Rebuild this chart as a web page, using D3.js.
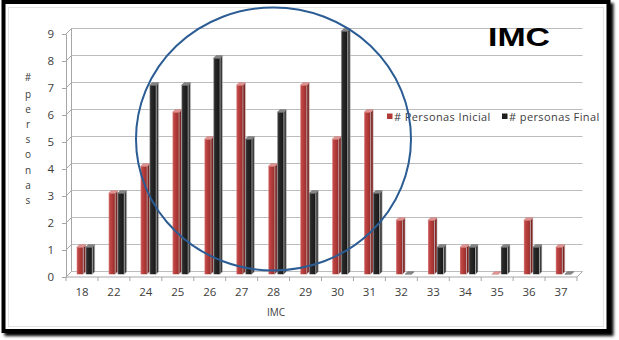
<!DOCTYPE html>
<html>
<head>
<meta charset="utf-8">
<script src="https://cdn.jsdelivr.net/npm/d3@7"></script>
<style>
  html, body { margin: 0; padding: 0; background: #fff; }
  svg { display: block; }
</style>
</head>
<body>
<svg id="chart" width="619" height="340"></svg>
<script>
const categories = ["18","22","24","25","26","27","28","29","30","31","32","33","34","35","36","37"];
const inicial = [1,3,4,6,5,7,4,7,5,6,2,2,1,0,2,1];
const final = [1,3,7,7,8,5,6,3,9,3,0,1,1,1,1,0];
const seriesNames = ["# Personas Inicial", "# personas Final"];
const yTicks = [0,1,2,3,4,5,6,7,8,9];
const title = "IMC";
const xTitle = "IMC";
const yTitleChars = ["#", "p", "e", "r", "s", "o", "n", "a", "s"];

const svg = d3.select("#chart");
const defs = svg.append("defs");

const f = defs.append("filter").attr("id","sh").attr("x","-5%").attr("y","-5%").attr("width","110%").attr("height","110%");
f.append("feGaussianBlur").attr("in","SourceAlpha").attr("stdDeviation",1.5).attr("result","b");
f.append("feOffset").attr("in","b").attr("dx",3).attr("dy",3).attr("result","o");
const fm = f.append("feMerge");
fm.append("feMergeNode").attr("in","o");
fm.append("feMergeNode").attr("in","SourceGraphic");

function grad(id, stops) {
  const g = defs.append("linearGradient").attr("id", id).attr("x1","0").attr("x2","1").attr("y1","0").attr("y2","0");
  stops.forEach(s => g.append("stop").attr("offset", s[0]).attr("stop-color", s[1]));
}
grad("gRed", [[0,"#d77a78"],[0.2,"#bf4644"],[0.7,"#a83634"],[1,"#8e2a28"]]);
grad("gBlk", [[0,"#6a6a6a"],[0.2,"#2a2a2a"],[0.7,"#1e1e1e"],[1,"#111"]]);

svg.append("rect").attr("x",3.5).attr("y",2).attr("width",605).attr("height",329)
  .attr("fill","#fff").attr("stroke","#000").attr("stroke-width",4).attr("filter","url(#sh)");
svg.append("rect").attr("x",8.5).attr("y",7.5).attr("width",595).attr("height",319)
  .attr("fill","none").attr("stroke","#e4e4e4").attr("stroke-width",1);

const D = 5.5;
const x0 = 66, x1 = 577;
const x = d3.scaleBand().domain(categories).range([x0, x1]).paddingInner(0).paddingOuter(0);
const xs = d3.scaleBand().domain(seriesNames).range([10, 28]).paddingInner(0);
const y = d3.scaleLinear().domain([0, 9]).range([277, 34]);

const gridG = svg.append("g");
yTicks.forEach(t => {
  const yy = y(t);
  gridG.append("line").attr("x1", x0 + D).attr("x2", x1 + D).attr("y1", yy - D).attr("y2", yy - D)
    .attr("stroke", "#bdbdbd").attr("stroke-width", 1);
  gridG.append("line").attr("x1", x0).attr("x2", x0 + D).attr("y1", yy).attr("y2", yy - D)
    .attr("stroke", "#a6a6a6").attr("stroke-width", 1);
});
gridG.append("line").attr("x1", x0 + D).attr("x2", x0 + D).attr("y1", y(0) - D).attr("y2", y(9) - D)
  .attr("stroke", "#a6a6a6");
gridG.append("line").attr("x1", x0).attr("x2", x1).attr("y1", y(0)).attr("y2", y(0)).attr("stroke", "#a6a6a6");
gridG.append("line").attr("x1", x1).attr("x2", x1 + D).attr("y1", y(0)).attr("y2", y(0) - D).attr("stroke", "#a6a6a6");

const yAxis = svg.append("g").attr("transform", `translate(${x0},0)`)
  .call(d3.axisLeft(y).tickValues(yTicks).tickSize(4).tickPadding(8).tickFormat(d3.format("d")));
yAxis.select(".domain").attr("stroke", "#a6a6a6");
yAxis.selectAll(".tick line").attr("stroke", "#a6a6a6");
yAxis.selectAll("text").attr("font-family", "Open Sans").attr("font-size", 11.5).attr("fill", "#404040");

const xAxis = svg.append("g").attr("transform", `translate(0,${y(0)})`)
  .call(d3.axisBottom(x).tickSize(0).tickPadding(11));
xAxis.select(".domain").remove();
xAxis.selectAll("text").attr("font-family", "Open Sans").attr("font-size", 11.5).attr("fill", "#404040");
const bounds = categories.map(c => x(c)).concat([x1]);
svg.append("g").selectAll("line").data(bounds).join("line")
  .attr("x1", d => d).attr("x2", d => d).attr("y1", y(0)).attr("y2", y(0) + 4)
  .attr("stroke", "#a6a6a6");

const dm = D / 2;
const d3d = 2.5;
const data = [];
categories.forEach((c, i) => {
  data.push({ cat: c, s: seriesNames[0], v: inicial[i], type: "red" });
  data.push({ cat: c, s: seriesNames[1], v: final[i], type: "blk" });
});
const barW = xs.bandwidth() - d3d;
const barsG = svg.append("g");
data.forEach(d => {
  const bx = x(d.cat) + xs(d.s) + dm - 2;
  const base = y(0) - dm;
  const top = y(d.v) - dm;
  const g = barsG.append("g");
  const red = d.type === "red";
  if (d.v > 0) {
    g.append("rect").attr("x", bx).attr("y", top).attr("width", barW).attr("height", base - top)
      .attr("fill", red ? "url(#gRed)" : "url(#gBlk)");
    g.append("path").attr("d", `M${bx + barW},${top}L${bx + barW + d3d},${top - d3d}L${bx + barW + d3d},${base - d3d}L${bx + barW},${base}Z`)
      .attr("fill", red ? "#7d2422" : "#3a3a3a").attr("stroke", "#d0d0d0").attr("stroke-width", 0.6);
  }
  g.append("path").attr("d", `M${bx},${top}L${bx + d3d},${top - d3d}L${bx + barW + d3d},${top - d3d}L${bx + barW},${top}Z`)
    .attr("fill", red ? "#e29a98" : "#8c8c8c").attr("stroke", red ? "#c96a68" : "#555").attr("stroke-width", 0.5);
});

svg.append("text").attr("x", 519).attr("y", 46).attr("text-anchor", "middle")
  .attr("font-family", "Liberation Sans, Arial").attr("font-weight", "bold").attr("font-size", 26)
  .attr("textLength", 62).attr("lengthAdjust", "spacingAndGlyphs").attr("fill", "#000").text(title);

svg.append("text").attr("x", 276).attr("y", 316).attr("text-anchor", "middle")
  .attr("font-family", "Open Sans").attr("font-size", 10).attr("fill", "#404040").text(xTitle);

svg.append("g").selectAll("text").data(yTitleChars).join("text")
  .attr("x", 28).attr("y", (d, i) => i === 0 ? 81 : 81 + 17 + (i - 1) * 15.1)
  .attr("text-anchor", "middle").attr("font-family", "Open Sans").attr("font-size", 10)
  .attr("fill", "#404040").text(d => d);

const leg = svg.append("g").attr("transform", "translate(387,117)");
const legItems = [{ name: seriesNames[0], color: "#b23b3a", dx: 0 }, { name: seriesNames[1], color: "#1e1e1e", dx: 115 }];
legItems.forEach(it => {
  leg.append("rect").attr("x", it.dx).attr("y", -3.5).attr("width", 5.5).attr("height", 5.5).attr("fill", it.color);
  leg.append("text").attr("x", it.dx + 7).attr("y", 4).attr("font-family", "Open Sans").attr("font-size", 11)
    .attr("letter-spacing", 0.4).attr("fill", "#404040").text(it.name);
});

svg.append("ellipse").attr("cx", 273.5).attr("cy", 139).attr("rx", 137.5).attr("ry", 131.5)
  .attr("fill", "none").attr("stroke", "#2b5c93").attr("stroke-width", 2);
</script>
</body>
</html>
